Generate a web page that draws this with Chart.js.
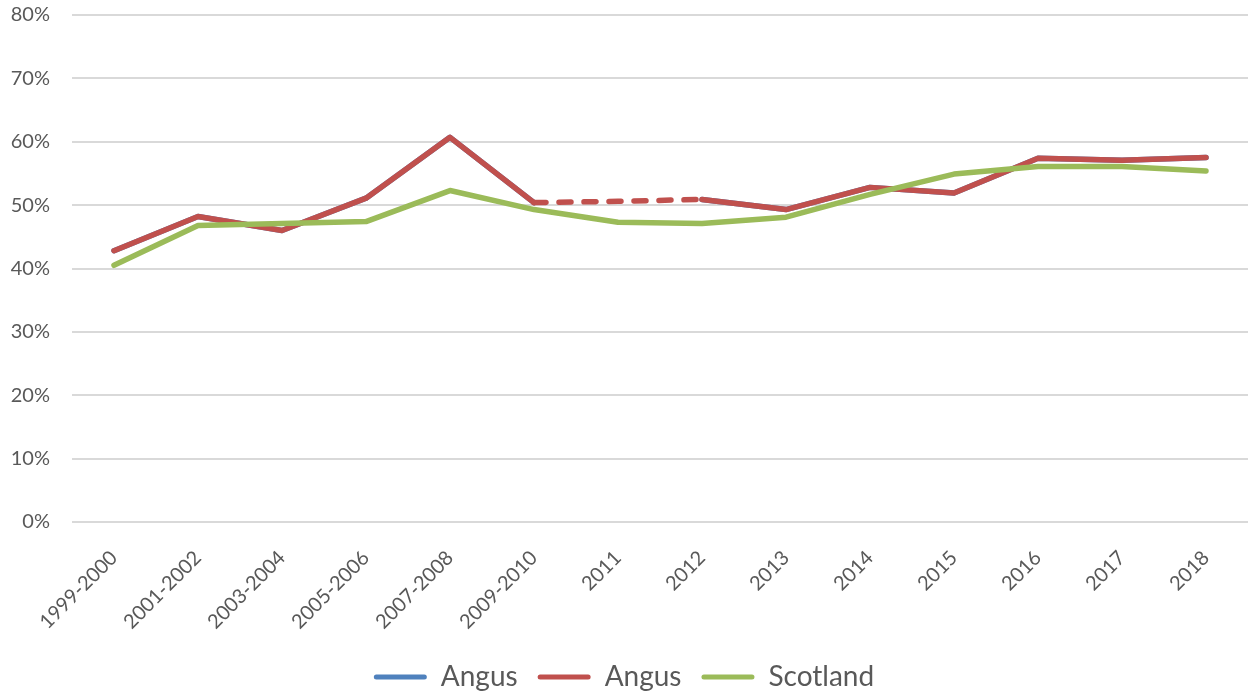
<!DOCTYPE html>
<html>
<head>
<meta charset="utf-8">
<title>Angus and Scotland</title>
<script src="https://cdn.jsdelivr.net/npm/chart.js@4/dist/chart.umd.min.js"></script>
<style>
  html, body { margin: 0; padding: 0; background: #fff; }
  #wrap { width: 1248px; height: 695px; position: relative; }
</style>
</head>
<body>
<div id="wrap"><canvas id="trend"></canvas></div>
<script>
const years = [
  "1999-2000", "2001-2002", "2003-2004", "2005-2006", "2007-2008", "2009-2010",
  "2011", "2012", "2013", "2014", "2015", "2016", "2017", "2018",
];

// percent values
const angusSurvey = [42.8, 48.2, 46.0, 51.1, 60.7, 50.4, null, 50.9, 49.3, 52.8, 51.9, 57.4, 57.1, 57.5];
const angus = [42.8, 48.2, 46.0, 51.1, 60.7, 50.4, 50.6, 50.9, 49.3, 52.8, 51.9, 57.4, 57.1, 57.5];
const scotland = [40.5, 46.8, 47.1, 47.4, 52.3, 49.3, 47.3, 47.1, 48.1, 51.7, 54.9, 56.1, 56.1, 55.4];

const yTicks = [0, 10, 20, 30, 40, 50, 60, 70, 80];

const textGrey = "#595959";
const font = "Lato, 'Open Sans', sans-serif";

// the years with no Angus survey are drawn dashed
const gapYears = [5, 6];

function lineSet(label, data, color, order) {
  return {
    label,
    data,
    order,
    borderColor: color,
    backgroundColor: color,
    borderWidth: 5.5,
    borderCapStyle: "round",
    borderJoinStyle: "round",
    pointRadius: 0,
    pointHoverRadius: 0,
    tension: 0,
    spanGaps: false,
  };
}

const red = lineSet("Angus", angus, "#C0504D", 2);
red.segment = {
  borderDash: (ctx) => (gapYears.includes(ctx.p0DataIndex) ? [12, 13] : undefined),
};

const ctx = document.getElementById("trend").getContext("2d");

new Chart(ctx, {
  type: "line",
  data: {
    labels: years,
    datasets: [
      lineSet("Angus", angusSurvey, "#4F81BD", 3),
      red,
      lineSet("Scotland", scotland, "#9BBB59", 1),
    ],
  },
  options: {
    responsive: true,
    maintainAspectRatio: false,
    animation: false,
    layout: { padding: { top: 15, right: 0, left: 0, bottom: -6 } },
    plugins: {
      tooltip: { enabled: false },
      legend: {
        position: "bottom",
        labels: {
          color: textGrey,
          font: { family: font, size: 28 },
          boxWidth: 53,
          boxHeight: 5,
          padding: 20,
          useBorderRadius: true,
          borderRadius: 2.5,
          sort: (a, b) => a.datasetIndex - b.datasetIndex,
          generateLabels: (chart) =>
            Chart.defaults.plugins.legend.labels
              .generateLabels(chart)
              .map((item) => ({ ...item, lineWidth: 0 })),
        },
      },
    },
    scales: {
      x: {
        offset: true,
        grid: { display: false },
        border: { display: false },
        afterFit: (scale) => {
          scale.height = 121;
        },
        ticks: {
          color: textGrey,
          font: { family: font, size: 20 },
          maxRotation: 45,
          minRotation: 45,
          autoSkip: false,
          padding: 16,
        },
      },
      y: {
        min: 0,
        max: 80,
        afterBuildTicks: (scale) => {
          scale.ticks = yTicks.map((v) => ({ value: v }));
        },
        afterFit: (scale) => {
          scale.width = 72;
          scale.paddingTop = 0;
          scale.paddingBottom = 0;
        },
        grid: { color: "#D9D9D9", lineWidth: 2, drawTicks: false },
        border: { display: false },
        ticks: {
          color: textGrey,
          font: { family: font, size: 20 },
          padding: 22,
          callback: (v) => v + "%",
        },
      },
    },
  },
});
</script>
</body>
</html>
